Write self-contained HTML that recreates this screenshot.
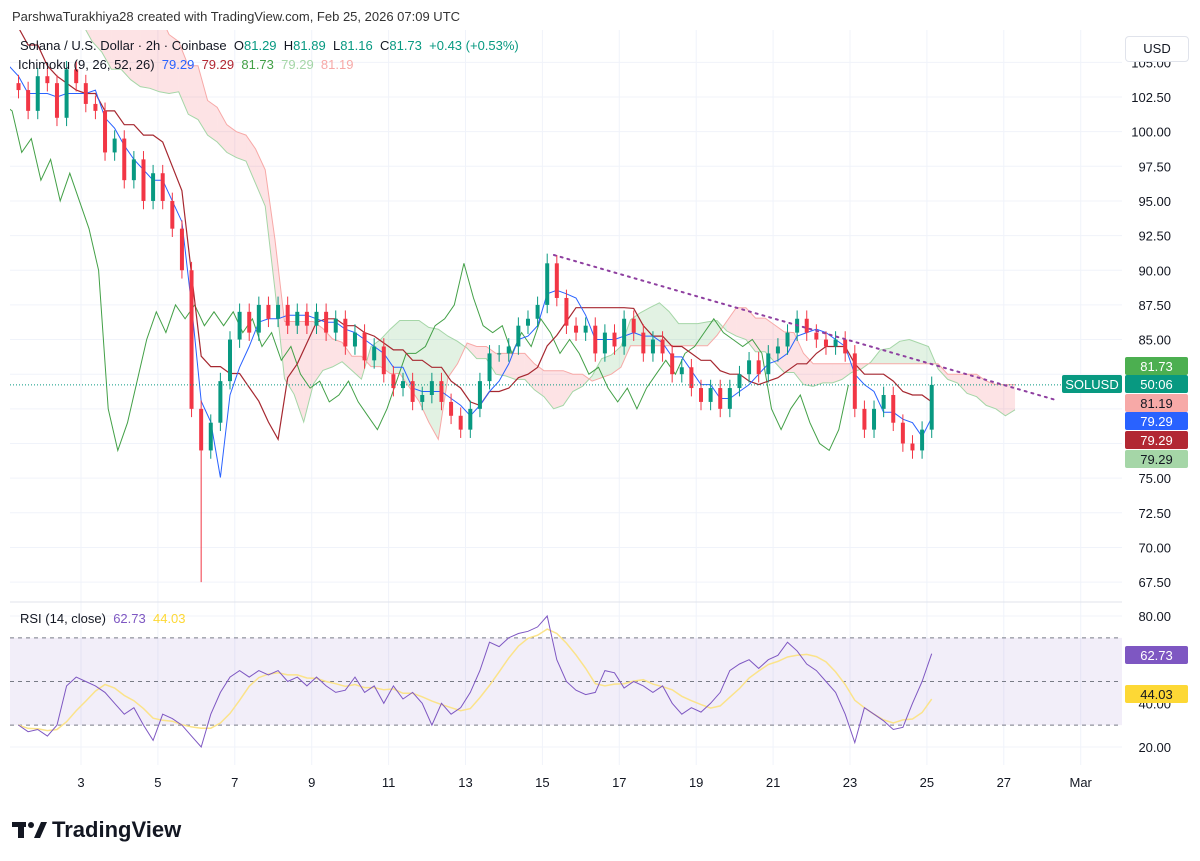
<!DOCTYPE html>
<html><head><meta charset="utf-8"><style>
body{margin:0;background:#fff;font-family:"Liberation Sans",sans-serif;}
#root{position:relative;width:1200px;height:861px;overflow:hidden;background:#fff;}
svg text{font-family:"Liberation Sans",sans-serif;}
</style></head><body>
<div id="root">
<svg id="svg" width="1200" height="861" viewBox="0 0 1200 861"></svg>
</div>
<script>
// ---- data ----
const startDay = 1.25;       // first visible candle open time (day of Feb)
const candleDays = 0.25;     // 6h candles
const priorCloses = [118,117,119,116,115,116,113,112,110,111,108,107,106,105,104,103.5];
const closes = [103,101.5,104,
103.5,101,104.5,103.5,
102,101.5,98.5,99.5,
96.5,98,95,97,
95,93,90,80,
77,79,82,85,
87,85.5,87.5,86.5,
87.5,86,87,86,
87,85.5,86.5,84.5,
85.5,83.5,84.5,82.5,
81.5,82,80.5,81,
82,80.5,79.5,78.5,
80,82,84,84,
84.5,86,86.5,87.5,
90.5,88,86,85.5,
86,84,85.5,84.5,
86.5,85.5,84,85,
84,82.5,83,81.5,
80.5,81.5,80,81.5,
82.5,83.5,82.5,84,
84.5,85.5,86.5,85.5,
85,84.5,85,84,
80,78.5,80,81,
79,77.5,77,78.5,
81.73];
const crashIndex = 19, crashLow = 67.5, peakIndex = 55, peakHigh = 91.2;
const rsiValues = [30,27,28,
25,30,48,52, 50,48,45,40, 35,38,30,23, 35,33,30,25,
20,35,45,52, 55,52,55,53, 55,50,52,48, 52,48,45,46,
52,45,48,40, 48,42,45,40, 30,40,35,38, 45,55,68,66,
70,72,73,75, 80,60,50,46, 44,45,55,54, 47,50,48,45,
48,40,35,38, 36,40,45,55, 58,60,56,60, 62,68,64,58,
55,50,45,35, 22,38,35,32, 28,29,40,50, 62.73];
const priceTicks = [105,102.5,100,97.5,95,92.5,90,87.5,85,82.5,80,77.5,75,72.5,70,67.5];
const rsiTicks = [80,40,20];
const dayTicks = [3,5,7,9,11,13,15,17,19,21,23,25,27,29];
const dayLabels = ["3","5","7","9","11","13","15","17","19","21","23","25","27","Mar"];
const trendStart = [15.3, 91.1], trendEnd = [28.4, 80.6];

// ---- scales ----
const X0=81, D0=3, PXD=38.45;
const xs = d => X0+(d-D0)*PXD;
const ys = p => 97+(102.5-p)*13.86;
const yr = v => 616+(80-v)*2.183;
const NS="http://www.w3.org/2000/svg";
const svg=document.getElementById('svg');
function el(tag,attrs,parent){const e=document.createElementNS(NS,tag);for(const k in attrs)e.setAttribute(k,attrs[k]);(parent||svg).appendChild(e);return e;}
function tx(str,attrs,parent){const t=el('text',attrs,parent);t.textContent=str;return t;}

const defs=el('defs',{});
const cp=el('clipPath',{id:'mainClip'},defs); el('rect',{x:10,y:30,width:1112,height:570},cp);
const cp2=el('clipPath',{id:'rsiClip'},defs); el('rect',{x:10,y:604,width:1112,height:160},cp2);

// grid
const grid=el('g',{stroke:'#f0f3fa','stroke-width':1});


dayTicks.forEach(d=>{el('line',{x1:xs(d),x2:xs(d),y1:30,y2:765},grid);});
priceTicks.forEach(p=>{el('line',{x1:10,x2:1122,y1:ys(p),y2:ys(p)},grid);});
[80,20].forEach(v=>el('line',{x1:10,x2:1122,y1:yr(v),y2:yr(v)},grid));
el('line',{x1:10,x2:1122,y1:602,y2:602,stroke:'#e0e3eb'});

// full series (history + visible)
const P=priorCloses.length;
const all=priorCloses.concat(closes);
const opens=all.map((c,i)=>i===0?c:all[i-1]);
const highs=all.map((c,i)=>i===P+peakIndex?peakHigh:Math.max(c,opens[i])+0.6);
const lows=all.map((c,i)=>i===P+crashIndex?crashLow:Math.min(c,opens[i])-0.6);
const tC=j=>startDay+candleDays*(j-P+0.5);
function mid(i,n){let h=-1e9,l=1e9;for(let k=Math.max(0,i-n+1);k<=i;k++){h=Math.max(h,highs[k]);l=Math.min(l,lows[k]);}return (h+l)/2;}
const tenkan=all.map((c,i)=>mid(i,3));
const kijun=all.map((c,i)=>mid(i,9));
const spanA=all.map((c,i)=>(tenkan[i]+kijun[i])/2);
const spanB=all.map((c,i)=>mid(i,17));
const shift=52/24;

const main=el('g',{'clip-path':'url(#mainClip)'});



// cloud
const cloud=el('g',{},main);


for(let i=0;i<all.length-1;i++){
  const xa=xs(tC(i)+shift), xb=xs(tC(i+1)+shift);
  const up=(spanA[i]+spanA[i+1])>=(spanB[i]+spanB[i+1]);
  el('polygon',{points:`${xa},${ys(spanA[i])} ${xb},${ys(spanA[i+1])} ${xb},${ys(spanB[i+1])} ${xa},${ys(spanB[i])}`,fill:up?'rgba(76,175,80,0.16)':'rgba(242,54,69,0.14)'},cloud);
}
function line(arr,dx,color,w,name){
  const pts=arr.map((v,i)=>`${xs(tC(i)+dx).toFixed(1)},${ys(v).toFixed(1)}`).join(' ');
  const p=el('polyline',{points:pts,fill:'none',stroke:color,'stroke-width':w},main);
  
  
}
line(spanA,shift,'#a5d6a7',1,'senkou-span-a');
line(spanB,shift,'#f7a9a7',1,'senkou-span-b');
line(all,-shift,'#43a047',1,'chikou-span');
line(kijun,0,'#a62830',1.2,'kijun-sen');
line(tenkan,0,'#2962ff',1,'tenkan-sen');

// candles (visible only)
const cg=el('g',{},main);


for(let j=P;j<all.length;j++){
  const c=all[j], o=opens[j], x=xs(tC(j)), col=c>=o?'#089981':'#f23645';
  el('line',{x1:x,x2:x,y1:ys(highs[j]),y2:ys(lows[j]),stroke:col,'stroke-width':1},cg);
  const top=ys(Math.max(o,c)), bot=ys(Math.min(o,c));
  el('rect',{x:x-2,y:top,width:4,height:Math.max(1,bot-top),fill:col},cg);
}
const last=closes[closes.length-1];
el('line',{x1:10,x2:1122,y1:ys(last),y2:ys(last),stroke:'#089981','stroke-dasharray':'1 2','stroke-width':1},main);
const tl=el('line',{x1:xs(trendStart[0]),y1:ys(trendStart[1]),x2:xs(trendEnd[0]),y2:ys(trendEnd[1]),stroke:'#8e3fa0','stroke-width':2,'stroke-dasharray':'2 5','stroke-linecap':'round'},main);



// RSI pane
const tR=i=>startDay+candleDays*(i+0.5);
const rg=el('g',{'clip-path':'url(#rsiClip)'});


el('rect',{x:10,y:yr(70),width:1112,height:yr(30)-yr(70),fill:'rgba(126,87,194,0.1)'},rg);
[70,50,30].forEach(v=>el('line',{x1:10,x2:1122,y1:yr(v),y2:yr(v),stroke:'#787b86','stroke-dasharray':'4 4','stroke-width':1},rg));
const rsiMA=rsiValues.map((v,i)=>{let s=0,n=0;for(let k=Math.max(0,i-4);k<=i;k++){s+=rsiValues[k];n++;}return s/n;});
const rp=el('polyline',{points:rsiMA.map((v,i)=>`${xs(tR(i)).toFixed(1)},${yr(v).toFixed(1)}`).join(' '),fill:'none',stroke:'#fbe38a','stroke-width':1.5},rg);


const rl=el('polyline',{points:rsiValues.map((v,i)=>`${xs(tR(i)).toFixed(1)},${yr(v).toFixed(1)}`).join(' '),fill:'none',stroke:'#7e57c2','stroke-width':1},rg);



// axes labels
const ax=el('g',{'font-size':13,fill:'#131722','text-anchor':'end'});


priceTicks.forEach(p=>tx(p.toFixed(2),{x:1171,y:ys(p)+5},ax));
rsiTicks.forEach(v=>tx(v.toFixed(2),{x:1171,y:yr(v)+5},ax));
const xa=el('g',{'font-size':13,fill:'#131722','text-anchor':'middle'});


dayTicks.forEach((d,i)=>tx(dayLabels[i],{x:xs(d),y:787},xa));

function badge(y,w,x,bg,fg,str,name){
  const g=el('g',{});
  
  
  el('rect',{x:x,y:y-9,width:w,height:18,rx:2,fill:bg},g);
  tx(str,{x:x+w/2,y:y+5,'font-size':13,fill:fg,'text-anchor':'middle'},g);
}
badge(366,63,1125,'#4caf50','#fff','81.73','chikou-badge');
badge(384,63,1125,'#089981','#fff','50:06','countdown-badge');
badge(384,60,1062,'#089981','#fff','SOLUSD','symbol-badge');
badge(403,63,1125,'#f7a9a7','#131722','81.19','span-b-badge');
badge(421,63,1125,'#2962ff','#fff','79.29','tenkan-badge');
badge(440,63,1125,'#b22833','#fff','79.29','kijun-badge');
badge(459,63,1125,'#a5d6a7','#131722','79.29','span-a-badge');
badge(655,63,1125,'#7e57c2','#fff','62.73','rsi-badge');
badge(694,63,1125,'#fdd835','#131722','44.03','rsi-ma-badge');
</script>
<div style="position:absolute;left:1125px;top:36px;width:62px;height:24px;border:1px solid #e0e3eb;border-radius:4px;background:#fff;font-size:13px;line-height:24px;text-align:center;color:#131722;">USD</div>
<div style="position:absolute;left:12px;top:9px;font-size:13px;color:#333;">ParshwaTurakhiya28 created with TradingView.com, Feb 25, 2026 07:09 UTC</div>
<div style="position:absolute;left:20px;top:38px;font-size:13px;color:#131722;white-space:nowrap;">Solana / U.S. Dollar · 2h · Coinbase&nbsp; O<span style="color:#089981">81.29</span>&nbsp; H<span style="color:#089981">81.89</span>&nbsp; L<span style="color:#089981">81.16</span>&nbsp; C<span style="color:#089981">81.73</span>&nbsp; <span style="color:#089981">+0.43 (+0.53%)</span></div>
<div style="position:absolute;left:18px;top:57px;font-size:13px;color:#131722;white-space:nowrap;">Ichimoku (9, 26, 52, 26)&nbsp; <span style="color:#2962ff">79.29</span>&nbsp; <span style="color:#b22833">79.29</span>&nbsp; <span style="color:#43a047">81.73</span>&nbsp; <span style="color:#a5d6a7">79.29</span>&nbsp; <span style="color:#f7a9a7">81.19</span></div>
<div style="position:absolute;left:20px;top:611px;font-size:13px;color:#131722;white-space:nowrap;">RSI (14, close)&nbsp; <span style="color:#7e57c2">62.73</span>&nbsp; <span style="color:#fdd835">44.03</span></div>
<div style="position:absolute;left:12px;top:816px;height:28px;display:flex;align-items:center;">
  <svg width="36" height="20" viewBox="0 0 36 20"><rect x="0" y="2" width="14" height="5" fill="#131722"/><rect x="6" y="2" width="6" height="16" fill="#131722"/><circle cx="19" cy="5" r="3" fill="#131722"/><polygon points="22,18 29,2 35,2 28,18" fill="#131722"/></svg>
  <span style="font-size:22px;font-weight:bold;color:#131722;margin-left:4px;">TradingView</span>
</div>
</body></html>
